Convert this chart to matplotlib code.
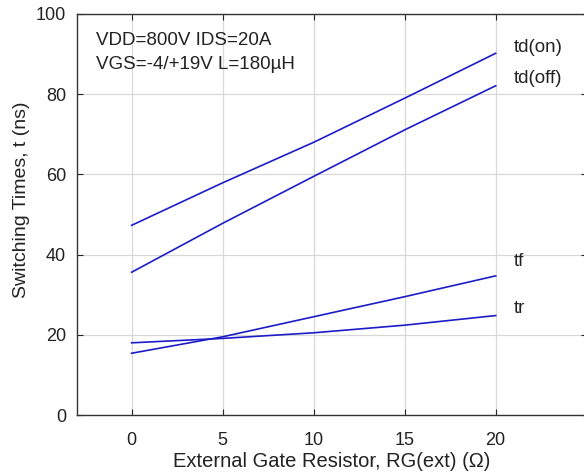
import matplotlib.pyplot as plt

# external gate resistor values (ohm)
rg = [0, 5, 10, 15, 20]

# switching times (ns)
td_on = [47.3, 57.9, 68.0, 79.0, 90.2]
td_off = [35.6, 47.8, 59.5, 71.1, 82.1]
tf = [15.4, 19.5, 24.5, 29.5, 34.7]
tr = [18.0, 19.1, 20.5, 22.4, 24.8]

curve_names = ["td(on)", "td(off)", "tf", "tr"]
label_y = [91.6, 83.8, 38.3, 26.6]

xticks = [0, 5, 10, 15, 20]
yticks = [0, 20, 40, 60, 80, 100]

plt.rcParams["font.family"] = ["Liberation Sans", "DejaVu Sans"]

fig = plt.figure(figsize=(5.84, 4.75), dpi=100)
ax = fig.add_axes([77 / 584, 60 / 475, (586.7 - 77) / 584, 401 / 475])

for ys in (td_on, td_off, tf, tr):
    ax.plot(rg, ys, color="#1c1cc8", linewidth=1.2, zorder=3)

for name, y in zip(curve_names, label_y):
    ax.text(21.0, y, name, fontsize=13.5, va="center", ha="left", color="#222222")

ax.text(-1.95, 93.4, "VDD=800V IDS=20A", fontsize=13.5, va="center", color="#222222")
ax.text(-1.95, 87.4, "VGS=-4/+19V L=180\u00b5H", fontsize=13.5, va="center", color="#222222")

ax.set_xlim(-3, 25)
ax.set_ylim(0, 100)
ax.set_xticks(xticks)
ax.set_yticks(yticks)
ax.tick_params(direction="in", top=True, right=True, labelsize=13, colors="#222222",
               length=4)
ax.tick_params(axis="x", pad=12)
ax.tick_params(axis="y", pad=8)
ax.grid(color="#d8d8d8", linewidth=0.9)
for sp in ax.spines.values():
    sp.set_color("#333333")
    sp.set_linewidth(1.0)

ax.set_xlabel("External Gate Resistor, RG(ext) (\u03a9)", fontsize=14.5, color="#222222")
ax.set_ylabel("Switching Times, t (ns)", fontsize=14, color="#222222")
ax.xaxis.set_label_coords(0.5, -0.093)
ax.yaxis.set_label_coords(-0.092, 0.536)

fig.savefig("out.png", dpi=100)
